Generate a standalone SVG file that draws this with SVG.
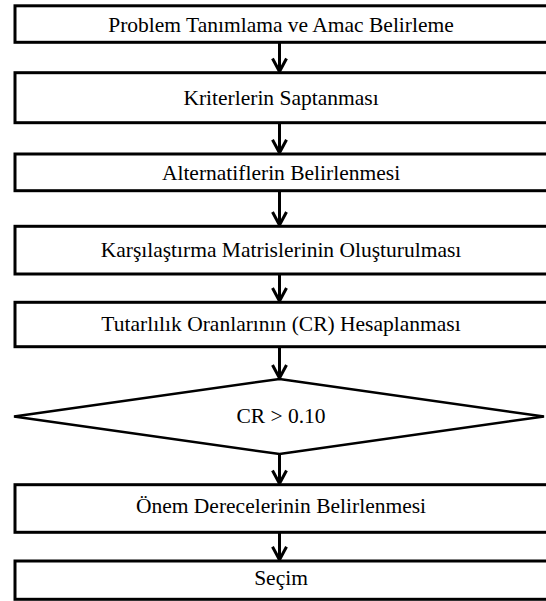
<svg xmlns="http://www.w3.org/2000/svg" width="546" height="601" viewBox="0 0 546 601">
<style>
.box{fill:#fff;stroke:#000;stroke-width:3}
.dia{fill:#fff;stroke:#000;stroke-width:2.5}
.lbl{font-family:"Liberation Serif","Times New Roman",serif;font-size:21.5px;fill:#000;text-anchor:middle}
.con{fill:none;stroke:#000;stroke-width:3}
</style>
<defs>
<marker id="chev" markerUnits="userSpaceOnUse" markerWidth="20" markerHeight="20" refX="16" refY="10" viewBox="0 0 20 20" orient="auto">
<path d="M3,3 L16,10 L3,17" fill="none" stroke="#000" stroke-width="3"/>
</marker>
</defs>
<rect width="546" height="601" fill="#fff"/>
<g id="connectors">
<line class="con" x1="279.5" y1="42.3" x2="279.5" y2="71.5" marker-end="url(#chev)"/>
<line class="con" x1="279.5" y1="122.7" x2="279.5" y2="152.8" marker-end="url(#chev)"/>
<line class="con" x1="279.5" y1="190.7" x2="279.5" y2="225" marker-end="url(#chev)"/>
<line class="con" x1="279.5" y1="274" x2="279.5" y2="301" marker-end="url(#chev)"/>
<line class="con" x1="279.5" y1="346.7" x2="279.5" y2="378" marker-end="url(#chev)"/>
<line class="con" x1="279.5" y1="454" x2="279.5" y2="483.5" marker-end="url(#chev)"/>
<line class="con" x1="279.5" y1="532.3" x2="279.5" y2="559.8" marker-end="url(#chev)"/>
</g>
<g id="n1"><rect class="box" x="15" y="5.8" width="545" height="36.5"/><text class="lbl" x="281" y="31.5">Problem Tanımlama ve Amac Belirleme</text></g>
<g id="n2"><rect class="box" x="15" y="72.7" width="545" height="50"/><text class="lbl" x="281" y="104.5">Kriterlerin Saptanması</text></g>
<g id="n3"><rect class="box" x="15" y="154" width="545" height="36.7"/><text class="lbl" x="281" y="179.5">Alternatiflerin Belirlenmesi</text></g>
<g id="n4"><rect class="box" x="15" y="226.3" width="545" height="47.7"/><text class="lbl" x="281" y="256.5">Karşılaştırma Matrislerinin Oluşturulması</text></g>
<g id="n5"><rect class="box" x="15" y="302.3" width="545" height="44.4"/><text class="lbl" x="281" y="331">Tutarlılık Oranlarının (CR) Hesaplanması</text></g>
<g id="n6"><polygon class="dia" points="14,416.5 279.5,379 544,416.5 279.5,454"/><text class="lbl" x="281" y="423">CR &gt; 0.10</text></g>
<g id="n7"><rect class="box" x="15" y="484.7" width="545" height="47.6"/><text class="lbl" x="281" y="513">Önem Derecelerinin Belirlenmesi</text></g>
<g id="n8"><rect class="box" x="15" y="561" width="545" height="38.3"/><text class="lbl" x="281" y="585">Seçim</text></g>
</svg>
